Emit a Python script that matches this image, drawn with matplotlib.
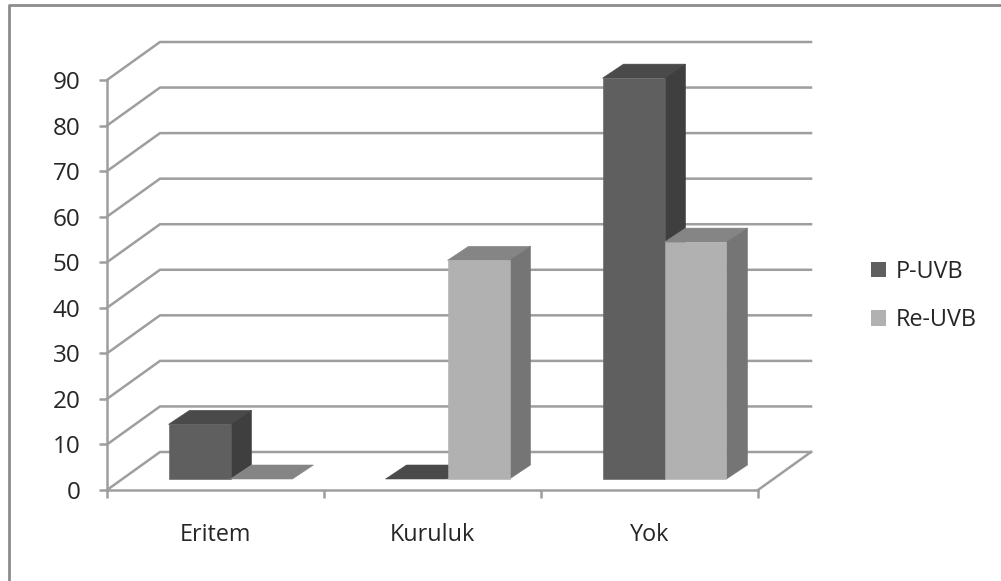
"""
P-UVB / Re-UVB side effects, drawn as a 3D-style column chart.
"""

import matplotlib

matplotlib.use("Agg")

import matplotlib.pyplot as plt
from matplotlib.lines import Line2D
from matplotlib.patches import Patch, Polygon


categories = ["Eritem", "Kuruluk", "Yok"]
p_uvb = [12, 0, 88]
re_uvb = [0, 48, 52]
y_ticks = [0, 10, 20, 30, 40, 50, 60, 70, 80, 90]

FIG_W, FIG_H = 1001, 581
LEFT, RIGHT, TOP, BOTTOM = 107, 758, 80, 490

GRID = "#9e9e9e"
TEXT = "#262626"
P_COLORS = ("#5f5f5f", "#3f3f3f", "#4a4a4a")
RE_COLORS = ("#b1b1b1", "#757575", "#858585")

plt.rcParams["font.family"] = ["Open Sans", "DejaVu Sans"]


def px_x(pixels):
    return pixels * len(categories) / (RIGHT - LEFT)


def px_y(pixels):
    return pixels * y_ticks[-1] / (BOTTOM - TOP)


def draw_bar(ax, x, width, value, colors):
    """
    Draw one column as front, side and top faces.
    """
    front, side, top = colors
    base_dx, base_dy = px_x(15), px_y(11)
    deep_dx, deep_dy = px_x(21), px_y(14)

    x0 = x + base_dx
    x1 = x0 + width
    y0 = base_dy
    y1 = base_dy + value

    faces = [
        ([(x0, y1), (x1, y1), (x1 + deep_dx, y1 + deep_dy), (x0 + deep_dx, y1 + deep_dy)], top),
    ]
    if value > 0:
        faces.append(([(x1, y0), (x1 + deep_dx, y0 + deep_dy), (x1 + deep_dx, y1 + deep_dy), (x1, y1)], side))
        faces.append(([(x0, y0), (x1, y0), (x1, y1), (x0, y1)], front))

    for points, color in faces:
        # thin same-colour edge closes the seams between faces
        ax.add_patch(Polygon(points, closed=True, facecolor=color, edgecolor=color, lw=0.4, clip_on=False, zorder=3))


def main():
    fig = plt.figure(figsize=(FIG_W / 100, FIG_H / 100), dpi=100, facecolor="white")
    ax = fig.add_axes([
        LEFT / FIG_W,
        1 - BOTTOM / FIG_H,
        (RIGHT - LEFT) / FIG_W,
        (BOTTOM - TOP) / FIG_H,
    ])
    ax.set_xlim(0, len(categories))
    ax.set_ylim(0, y_ticks[-1])
    ax.patch.set_visible(False)

    # outer frame, only top and left are visible
    fig.add_artist(Line2D([9 / FIG_W, 9 / FIG_W, 1], [0, 1 - 5 / FIG_H, 1 - 5 / FIG_H], color="#8c8c8c", lw=2))

    for side in ("top", "right"):
        ax.spines[side].set_visible(False)
    for side in ("left", "bottom"):
        ax.spines[side].set_color(GRID)
        ax.spines[side].set_linewidth(1.8)

    wall_dx, wall_dy = px_x(53), px_y(38)
    for value in y_ticks:
        ax.plot(
            [0, wall_dx, len(categories) + wall_dx],
            [value, value + wall_dy, value + wall_dy],
            color=GRID, lw=1.8, clip_on=False, zorder=1, solid_joinstyle="miter",
        )
    ax.plot(
        [len(categories), len(categories) + wall_dx],
        [0, wall_dy],
        color=GRID, lw=1.8, clip_on=False, zorder=1,
    )

    ax.set_yticks(y_ticks)
    ax.set_xticks(range(len(categories) + 1))
    ax.set_xticklabels([])
    ax.tick_params(axis="both", color=GRID, width=1.8, length=6, direction="out")
    ax.tick_params(axis="y", labelcolor=TEXT, labelsize=17.5, pad=13)

    for i, name in enumerate(categories):
        ax.annotate(
            name, (i + 0.5, 0), xytext=(0, -45 * 0.72), textcoords="offset points",
            ha="center", va="center", fontsize=16.8, color=TEXT,
        )

    bar_w = px_x(62)
    for i in range(len(categories)):
        center = i + 0.5
        draw_bar(ax, center - bar_w, bar_w, p_uvb[i], P_COLORS)
        draw_bar(ax, center, bar_w, re_uvb[i], RE_COLORS)

    handles = [
        Patch(facecolor=P_COLORS[0], edgecolor="none", label="P-UVB"),
        Patch(facecolor=RE_COLORS[0], edgecolor="none", label="Re-UVB"),
    ]
    fig.legend(
        handles=handles,
        loc="center left",
        bbox_to_anchor=(864 / FIG_W, 1 - 296 / FIG_H),
        frameon=False,
        fontsize=16.8,
        labelcolor=TEXT,
        handlelength=0.64,
        handleheight=0.64,
        handletextpad=0.4,
        labelspacing=1.05,
        borderpad=0.3,
        borderaxespad=0,
    )

    plt.savefig("out.png", dpi=100)


if __name__ == "__main__":
    main()
